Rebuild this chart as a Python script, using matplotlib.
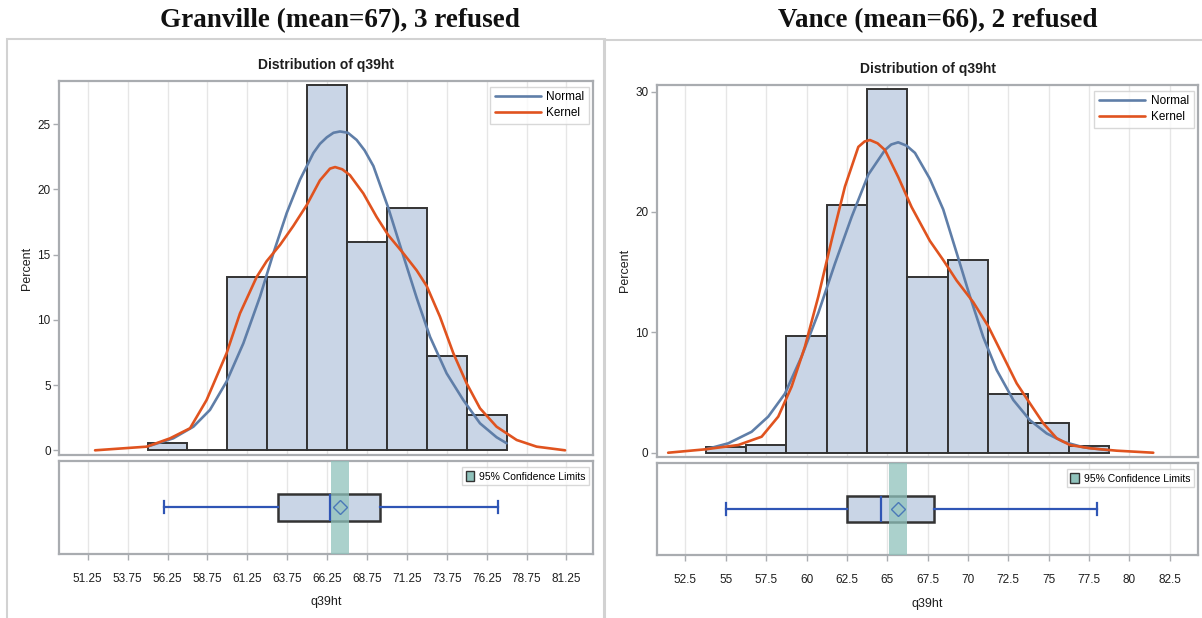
import matplotlib
matplotlib.use("Agg")
import matplotlib.pyplot as plt
from matplotlib.patches import Rectangle, Patch

# ---------------- DATA ----------------
# Granville
g_title = "Granville (mean=67), 3 refused"
g_bin_start = [55.0, 57.5, 60.0, 62.5, 65.0, 67.5, 70.0, 72.5, 75.0]
g_bin_width = 2.5
g_percent = [0.53, 0.0, 13.26, 13.3, 28.0, 16.0, 18.6, 7.26, 2.73]
g_normal_x = [55.0, 55.15, 56.61, 57.87, 58.91, 59.95, 61.0, 62.05, 62.88, 63.72, 64.55, 65.39,
              65.8, 66.23, 66.65, 67.06, 67.55, 68.1, 68.6, 69.15, 70.08, 71.03, 71.86, 72.7,
              73.74, 74.78, 75.83, 76.87, 77.5]
g_normal_y = [0.3, 0.35, 0.92, 1.81, 3.1, 5.27, 8.2, 11.8, 15.1, 18.2, 20.75, 22.8,
              23.5, 24.0, 24.35, 24.45, 24.35, 23.8, 23.0, 21.8, 18.6, 14.9, 11.7, 8.7,
              5.9, 3.86, 2.07, 1.0, 0.54]
g_kernel_x = [51.71, 54.95, 56.41, 57.66, 58.7, 59.95, 60.79, 61.84, 62.46, 63.3, 64.13, 64.97,
              65.8, 66.43, 66.75, 67.2, 67.68, 68.52, 69.35, 70.08, 71.03, 71.86, 72.49, 73.32,
              74.16, 74.99, 75.83, 76.87, 78.13, 79.38, 81.16]
g_kernel_y = [0.0, 0.28, 0.92, 1.69, 3.86, 7.44, 10.5, 13.3, 14.5, 15.75, 17.2, 18.8,
              20.7, 21.6, 21.72, 21.55, 21.1, 19.7, 17.9, 16.5, 15.1, 13.8, 12.6, 10.25,
              7.44, 5.14, 3.22, 1.81, 0.79, 0.28, 0.0]
g_xticks = [51.25, 53.75, 56.25, 58.75, 61.25, 63.75, 66.25, 68.75, 71.25, 73.75, 76.25, 78.75, 81.25]
g_xtick_labels = ["51.25", "53.75", "56.25", "58.75", "61.25", "63.75", "66.25", "68.75",
                  "71.25", "73.75", "76.25", "78.75", "81.25"]
g_yticks = [0, 5, 10, 15, 20, 25]
g_box = dict(whislo=56.0, q1=63.2, med=66.43, q3=69.56, whishi=76.94, mean=67.06)
g_ci = [66.47, 67.64]

# Vance
v_title = "Vance (mean=66), 2 refused"
v_bin_start = [53.75, 56.25, 58.75, 61.25, 63.75, 66.25, 68.75, 71.25, 73.75, 76.25]
v_bin_width = 2.5
v_percent = [0.5, 0.61, 9.72, 20.57, 30.18, 14.57, 16.0, 4.88, 2.49, 0.56]
v_normal_x = [53.75, 55.15, 56.6, 57.63, 58.66, 59.7, 60.73, 61.76, 62.8, 63.83, 64.86, 65.25,
              65.68, 66.2, 66.72, 67.64, 68.47, 69.3, 70.13, 70.95, 71.78, 72.81, 73.84, 74.88,
              75.91, 77.15, 78.75]
v_normal_y = [0.28, 0.78, 1.74, 3.0, 4.9, 8.0, 11.6, 15.7, 19.6, 23.1, 25.14, 25.6,
              25.78, 25.5, 24.9, 22.75, 20.2, 16.6, 12.96, 9.6, 6.87, 4.38, 2.7, 1.6,
              0.91, 0.45, 0.2]
v_kernel_x = [51.43, 53.71, 55.77, 57.22, 58.25, 59.08, 59.9, 60.73, 61.56, 62.38, 63.21, 63.6,
              63.93, 64.4, 64.86, 65.68, 66.51, 67.64, 68.47, 69.3, 70.33, 71.26, 72.19, 73.02,
              73.84, 74.67, 75.5, 76.32, 77.56, 79.21, 81.48]
v_kernel_y = [0.0, 0.28, 0.64, 1.33, 3.0, 5.5, 8.8, 12.96, 17.67, 22.1, 25.4, 25.85,
              25.97, 25.7, 25.14, 22.9, 20.4, 17.6, 16.0, 14.3, 12.5, 10.5, 8.0, 5.76,
              4.1, 2.44, 1.2, 0.64, 0.37, 0.17, 0.0]
v_xticks = [52.5, 55, 57.5, 60, 62.5, 65, 67.5, 70, 72.5, 75, 77.5, 80, 82.5]
v_xtick_labels = ["52.5", "55", "57.5", "60", "62.5", "65", "67.5", "70", "72.5", "75",
                  "77.5", "80", "82.5"]
v_yticks = [0, 10, 20, 30]
v_box = dict(whislo=55.0, q1=62.49, med=64.6, q3=67.9, whishi=78.01, mean=65.65)
v_ci = [65.1, 66.23]

# ---------------- STYLE ----------------
W, H = 1202, 618
FONT = ["Liberation Sans", "DejaVu Sans"]
SERIF = ["Liberation Serif", "DejaVu Serif"]
BAR_FC = "#c9d5e6"
BAR_EC = "#333333"
NORMAL_C = "#5f7ea8"
KERNEL_C = "#e0531f"
WHISK_C = "#2f55b5"
CI_C = "#8fc2bb"
SPINE_C = "#a9acb0"
GRID_C = "#e6e6e6"
TXT_C = "#1e1e1e"

plt.rcParams["font.family"] = FONT

fig = plt.figure(figsize=(W / 100, H / 100), dpi=100)
fig.patch.set_facecolor("white")


def px_rect(x0, y0, x1, y1):
    return [x0 / W, 1 - y1 / H, (x1 - x0) / W, (y1 - y0) / H]


def style_axes(ax):
    for s in ax.spines.values():
        s.set_color(SPINE_C)
        s.set_linewidth(1.6)
    ax.set_facecolor("white")


def draw_panel(hist_rect, box_rect, frame_rect, title_xy, title,
               bin_start, bin_width, percent, nx, ny, kx, ky,
               xticks, xlabels, yticks, xlim, ylim, box, ci,
               leg_anchor, ci_leg_anchor):
    # outer frame
    fx0, fy0, fx1, fy1 = frame_rect
    fig.patches.append(Rectangle((fx0 / W, 1 - fy1 / H), (fx1 - fx0) / W, (fy1 - fy0) / H,
                                 transform=fig.transFigure, fill=False,
                                 edgecolor="#d2d2d2", linewidth=1.5))
    fig.text(title_xy[0] / W, 1 - title_xy[1] / H, title, family=SERIF, fontsize=19.5,
             fontweight="bold", ha="center", va="center", color="#111111")

    axh = fig.add_axes(px_rect(*hist_rect))
    style_axes(axh)
    axh.bar(bin_start, percent, width=bin_width, align="edge", color=BAR_FC,
            edgecolor=BAR_EC, linewidth=1.4, zorder=2)
    axh.plot(nx, ny, color=NORMAL_C, lw=1.9, zorder=3, label="Normal",
             solid_joinstyle="round", solid_capstyle="round")
    axh.plot(kx, ky, color=KERNEL_C, lw=1.9, zorder=4, label="Kernel",
             solid_joinstyle="round", solid_capstyle="round")
    axh.set_xlim(xlim)
    axh.set_ylim(ylim)
    axh.set_xticks(xticks)
    axh.tick_params(axis="x", length=0, labelbottom=False)
    axh.set_yticks(yticks)
    axh.set_yticklabels([str(t) for t in yticks])
    axh.tick_params(axis="y", length=4, width=1, color=SPINE_C, pad=2,
                    labelsize=8.5, labelcolor=TXT_C)
    axh.grid(axis="x", color=GRID_C, lw=1.0, zorder=0)
    axh.set_axisbelow(True)
    axh.set_ylabel("Percent", fontsize=9, color=TXT_C, labelpad=3)
    axh.set_title("Distribution of q39ht", fontsize=10, fontweight="bold",
                  color=TXT_C, pad=9)
    leg = axh.legend(loc="upper right", bbox_to_anchor=leg_anchor, fontsize=8.5,
                     frameon=True, fancybox=False, handlelength=3.9, handletextpad=0.5,
                     borderpad=0.4, labelspacing=0.35, borderaxespad=0)
    leg.get_frame().set_edgecolor("#cfcfcf")
    leg.get_frame().set_linewidth(1.0)

    axb = fig.add_axes(px_rect(*box_rect))
    style_axes(axb)
    axb.set_xlim(xlim)
    axb.set_ylim(0, 1)
    axb.axvspan(ci[0], ci[1], color=CI_C, alpha=0.75, lw=0, zorder=3)
    stats = [dict(box, label="", fliers=[])]
    axb.bxp(stats, positions=[0.5], widths=0.29, capwidths=0.13,
            orientation="horizontal", showmeans=True, patch_artist=True,
            boxprops=dict(facecolor=BAR_FC, edgecolor=BAR_EC, linewidth=1.8),
            whiskerprops=dict(color=WHISK_C, linewidth=1.6),
            capprops=dict(color=WHISK_C, linewidth=1.6),
            medianprops=dict(color=WHISK_C, linewidth=1.6),
            meanprops=dict(marker="D", markersize=7, markerfacecolor="none",
                           markeredgecolor="#4a78b8", markeredgewidth=1.0),
            zorder=2)
    for ln in axb.lines:
        ln.set_zorder(4)
    axb.set_xticks(xticks)
    axb.set_xticklabels(xlabels)
    axb.set_yticks([])
    axb.tick_params(axis="x", length=4, width=1, color=SPINE_C, pad=10,
                    labelsize=8.5, labelcolor=TXT_C)
    axb.grid(axis="x", color=GRID_C, lw=1.0, zorder=0)
    axb.set_axisbelow(True)
    axb.set_xlabel("q39ht", fontsize=9, color=TXT_C, labelpad=8)
    cileg = axb.legend(handles=[Patch(facecolor=CI_C, edgecolor="#333333", lw=1.0,
                                      label="95% Confidence Limits")],
                       loc="upper right", bbox_to_anchor=ci_leg_anchor, fontsize=7.5,
                       frameon=True, fancybox=False, handlelength=0.8, handleheight=1.1,
                       handletextpad=0.5, borderpad=0.35, borderaxespad=0)
    cileg.get_frame().set_edgecolor("#cfcfcf")
    cileg.get_frame().set_linewidth(1.0)


draw_panel(hist_rect=(59, 81, 593.3, 455), box_rect=(59, 461, 593.3, 553.7),
           frame_rect=(7, 39, 605, 640), title_xy=(340, 21), title=g_title,
           bin_start=g_bin_start, bin_width=g_bin_width, percent=g_percent,
           nx=g_normal_x, ny=g_normal_y, kx=g_kernel_x, ky=g_kernel_y,
           xticks=g_xticks, xlabels=g_xtick_labels, yticks=g_yticks,
           xlim=(49.45, 82.93), ylim=(-0.36, 28.32), box=g_box, ci=g_ci,
           leg_anchor=(0.9925, 0.985), ci_leg_anchor=(0.9925, 0.93))

draw_panel(hist_rect=(656.7, 85, 1198.3, 456.7), box_rect=(656.7, 463, 1198.3, 555),
           frame_rect=(604, 40, 1230, 640), title_xy=(938, 21), title=v_title,
           bin_start=v_bin_start, bin_width=v_bin_width, percent=v_percent,
           nx=v_normal_x, ny=v_normal_y, kx=v_kernel_x, ky=v_kernel_y,
           xticks=v_xticks, xlabels=v_xtick_labels, yticks=v_yticks,
           xlim=(50.72, 84.27), ylim=(-0.33, 30.54), box=v_box, ci=v_ci,
           leg_anchor=(0.992, 0.985), ci_leg_anchor=(0.992, 0.93))

fig.savefig("out.png", dpi=100, facecolor="white")
